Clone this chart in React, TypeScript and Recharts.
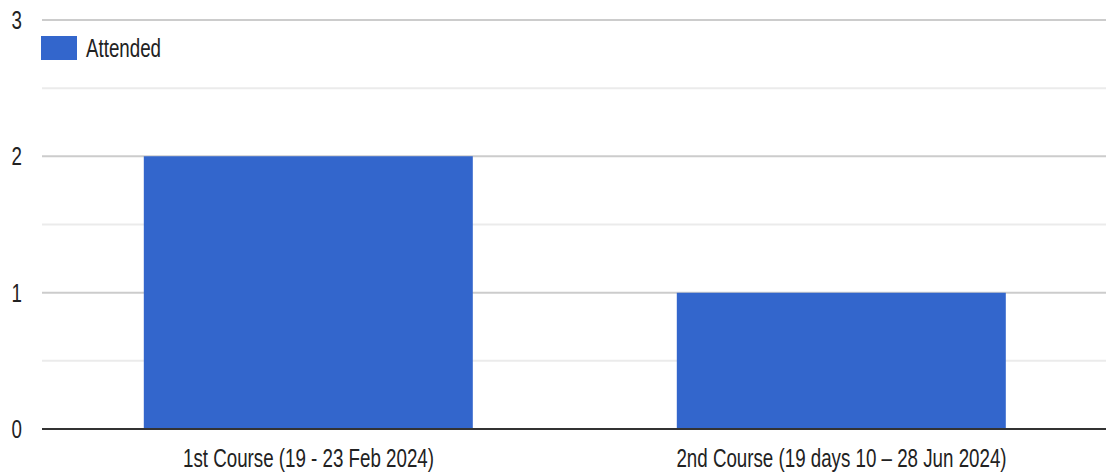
import React from "react";
import {
  BarChart,
  Bar,
  XAxis,
  YAxis,
  CartesianGrid,
  Legend,
} from "recharts";

const courses = [
  "1st Course (19 - 23 Feb 2024)",
  "2nd Course (19 days 10 – 28 Jun 2024)",
];
const attended = [2, 1];
const yTicks = [0, 1, 2, 3];
const majorLines = [1, 2, 3];
const minorLines = [0.5, 1.5, 2.5];

const data = courses.map((course, i) => ({ course, attended: attended[i] }));

const FONT = "'Liberation Sans', Arial, sans-serif";
const TEXT = "#222";
const BLUE = "#3366cc";

// text squeezed horizontally like the reference
const XTick = ({ x, y, payload }: any) => (
  <text
    transform={`translate(${x},${y + 30}) scale(0.75,1)`}
    textAnchor="middle"
    fontFamily={FONT}
    fontSize={25}
    fill={TEXT}
  >
    {payload.value}
  </text>
);

const YTick = ({ y, payload }: any) => (
  <text
    transform={`translate(22,${y + 9}) scale(0.75,1)`}
    textAnchor="end"
    fontFamily={FONT}
    fontSize={25}
    fill={TEXT}
  >
    {payload.value}
  </text>
);

const LegendBox = () => (
  <svg width={200} height={30} style={{ display: "block", overflow: "visible" }}>
    <rect x={41} y={0} width={36} height={24} fill={BLUE} />
    <text
      transform="translate(86,21) scale(0.75,1)"
      fontFamily={FONT}
      fontSize={25}
      fill={TEXT}
    >
      Attended
    </text>
  </svg>
);

export default function App() {
  return (
    <div style={{ position: "absolute", left: 0, top: 0, background: "#fff" }}>
      <BarChart
        width={1106}
        height={474}
        data={data}
        margin={{ top: 20, right: -2, left: 0, bottom: 0 }}
        barCategoryGap="19.1%"
      >
        <CartesianGrid
          vertical={false}
          horizontalValues={minorLines}
          stroke="#ebebeb"
          strokeWidth={2}
        />
        <CartesianGrid
          vertical={false}
          horizontalValues={majorLines}
          stroke="#cccccc"
          strokeWidth={2}
        />
        <XAxis
          dataKey="course"
          height={45}
          tickLine={false}
          axisLine={{ stroke: "#333", strokeWidth: 2 }}
          tick={<XTick />}
          interval={0}
        />
        <YAxis
          width={42}
          domain={[0, 3]}
          ticks={yTicks}
          axisLine={false}
          tickLine={false}
          tick={<YTick />}
        />
        <Legend
          verticalAlign="middle"
          align="left"
          layout="vertical"
          content={() => <LegendBox />}
          wrapperStyle={{ top: 36, left: 0, width: 0, height: 0, overflow: "visible" }}
        />
        <Bar dataKey="attended" fill={BLUE} isAnimationActive={false} />
      </BarChart>
    </div>
  );
}
